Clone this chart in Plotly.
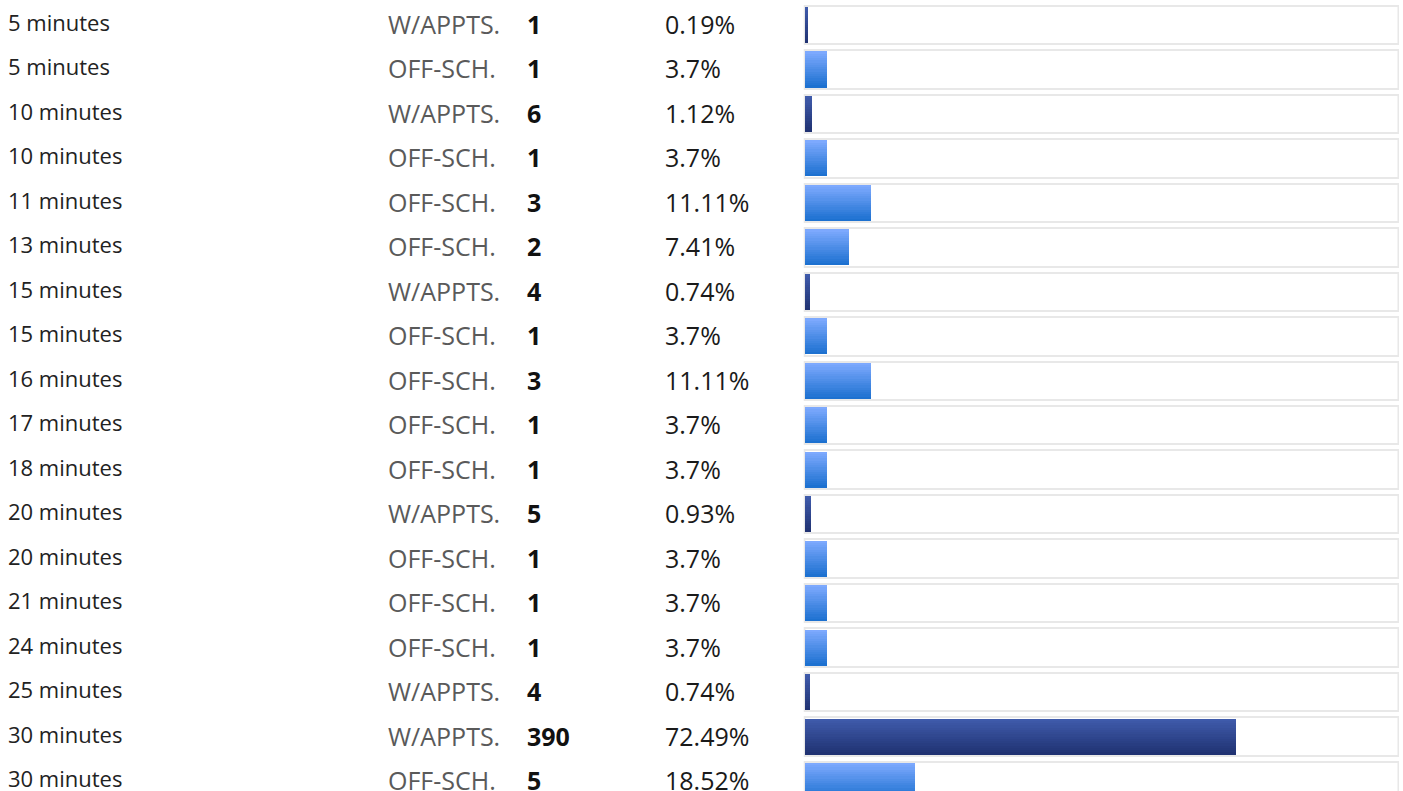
import plotly.graph_objects as go

labels = ["5 minutes", "5 minutes", "10 minutes", "10 minutes", "11 minutes", "13 minutes",
          "15 minutes", "15 minutes", "16 minutes", "17 minutes", "18 minutes", "20 minutes",
          "20 minutes", "21 minutes", "24 minutes", "25 minutes", "30 minutes", "30 minutes"]
types = ["W/APPTS.", "OFF-SCH.", "W/APPTS.", "OFF-SCH.", "OFF-SCH.", "OFF-SCH.",
         "W/APPTS.", "OFF-SCH.", "OFF-SCH.", "OFF-SCH.", "OFF-SCH.", "W/APPTS.",
         "OFF-SCH.", "OFF-SCH.", "OFF-SCH.", "W/APPTS.", "W/APPTS.", "OFF-SCH."]
counts = [1, 1, 6, 1, 3, 2, 4, 1, 3, 1, 1, 5, 1, 1, 1, 4, 390, 5]
pcts = [0.19, 3.7, 1.12, 3.7, 11.11, 7.41, 0.74, 3.7, 11.11, 3.7, 3.7, 0.93,
        3.7, 3.7, 3.7, 0.74, 72.49, 18.52]
pct_labels = ["0.19%", "3.7%", "1.12%", "3.7%", "11.11%", "7.41%", "0.74%", "3.7%", "11.11%",
              "3.7%", "3.7%", "0.93%", "3.7%", "3.7%", "3.7%", "0.74%", "72.49%", "18.52%"]

W, H = 1403, 791
rows = list(range(len(labels)))
pitch = 44.47
top_c = 25.0

def lerp(c1, c2, t):
    return "rgb(%d,%d,%d)" % tuple(round(a + (b - a) * t) for a, b in zip(c1, c2))

grad = {
    "W/APPTS.": ((0x40, 0x5c, 0xad), (0x1f, 0x31, 0x70)),
    "OFF-SCH.": ((0x80, 0xab, 0xff), (0x1a, 0x6f, 0xcf)),
}

fig = go.Figure()

# track boxes
fig.add_trace(go.Bar(
    y=rows, x=[100] * len(rows), orientation="h", width=0.865,
    marker=dict(color="white", line=dict(color="#e8e8e8", width=2)),
    hoverinfo="skip", showlegend=False))

# gradient bars in horizontal strips
N = 16
bar_h = 0.81
disp = [max(p, 0.45) for p in pcts]
for k in range(N):
    t = (k + 0.5) / N
    cols = [lerp(grad[tp][0], grad[tp][1], t) for tp in types]
    fig.add_trace(go.Bar(
        y=rows, x=disp, orientation="h",
        width=bar_h / N * 1.02, offset=-bar_h / 2 + k * bar_h / N,
        marker=dict(color=cols, line=dict(width=0)),
        hoverinfo="skip", showlegend=False))

ann = []
FONT = "Open Sans"
for i in rows:
    ann.append(dict(x=6 / W, y=i, xref="paper", yref="y", text=labels[i], showarrow=False,
                    xanchor="left", yanchor="middle", yshift=3,
                    font=dict(family=FONT, size=22, color="#222222")))
    ann.append(dict(x=386 / W, y=i, xref="paper", yref="y", text=types[i], showarrow=False,
                    xanchor="left", yanchor="middle", yshift=1,
                    font=dict(family=FONT, size=25, color="#5a5a5a")))
    ann.append(dict(x=525 / W, y=i, xref="paper", yref="y", text="<b>%d</b>" % counts[i],
                    showarrow=False, xanchor="left", yanchor="middle", yshift=1,
                    font=dict(family=FONT, size=25, color="#111111")))
    ann.append(dict(x=663 / W, y=i, xref="paper", yref="y", text=pct_labels[i], showarrow=False,
                    xanchor="left", yanchor="middle", yshift=1,
                    font=dict(family=FONT, size=25, color="#1a1a1a")))

y_top = -top_c / pitch
y_bot = (H - top_c) / pitch
fig.update_layout(
    width=W, height=H, margin=dict(l=0, r=0, t=0, b=0),
    paper_bgcolor="white", plot_bgcolor="white",
    barmode="overlay", bargap=0,
    xaxis=dict(domain=[803.5 / W, 1399 / W], range=[-0.25, 100.1], visible=False, fixedrange=True),
    yaxis=dict(range=[y_bot, y_top], visible=False, fixedrange=True),
    annotations=ann,
)
fig.write_html("out.html", config={"displayModeBar": False},
               post_script="document.body.style.margin='0';document.body.style.overflow='hidden';")
